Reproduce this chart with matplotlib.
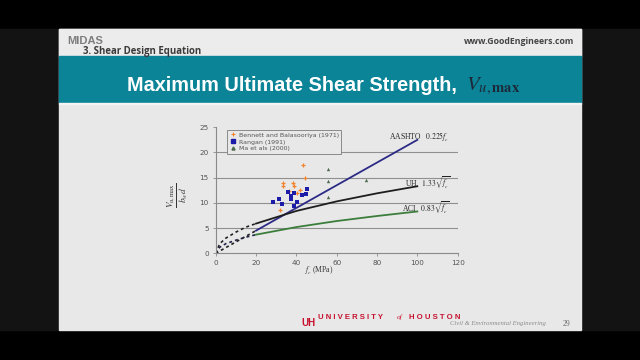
import matplotlib.pyplot as plt
import matplotlib.patches as mpatches
from matplotlib.lines import Line2D

plt.rcParams['mathtext.fontset'] = 'stix'

# test data (f'c in MPa, Vu,max / bw d)
bennett_fc = [43.2, 33.5, 38.5, 33.5, 38.8, 44.3, 40.5, 36.5, 42.0, 31.9]
bennett_v = [17.5, 13.9, 13.9, 13.3, 13.3, 14.9, 12.0, 12.4, 12.5, 8.5]

rangan_fc = [28.6, 31.6, 33.1, 35.9, 37.2, 37.2, 39.0, 40.2, 43.0, 44.6, 45.1, 39.0]
rangan_v = [10.1, 10.7, 9.8, 12.1, 11.3, 10.7, 9.4, 10.1, 11.6, 11.8, 12.8, 11.9]

ma_fc = [55.9, 55.9, 55.9, 74.5]
ma_v = [16.7, 14.3, 11.1, 14.6]

# design equations, solid part (20-100 MPa) and dashed part (0-20 MPa)
aashto_fc = [20, 100]
aashto_v = [4.5, 22.5]
aashto_fc_ext = [0, 20]
aashto_v_ext = [0, 4.5]

uh_fc = [20, 40, 60, 80, 100]
uh_v = [5.9, 8.4, 10.3, 11.9, 13.3]
aci_fc = [20, 40, 60, 80, 100]
aci_v = [3.7, 5.2, 6.4, 7.4, 8.3]

ext_fc = [0, 2, 5, 10, 15, 20]
uh_v_ext = [0, 1.9, 3.0, 4.2, 5.2, 5.9]
aci_v_ext = [0, 1.2, 1.9, 2.6, 3.2, 3.7]

W, H = 640, 360


def fx(px):
    return px / W


def fy(py):
    return 1 - py / H


fig = plt.figure(figsize=(6.4, 3.6), dpi=100, facecolor='black')


def rect(x0, y0, x1, y1, color):
    fig.patches.append(mpatches.Rectangle((fx(x0), fy(y1)), fx(x1) - fx(x0), fy(y0) - fy(y1),
                                          transform=fig.transFigure, color=color, zorder=-5))


# slide background
rect(0, 29, 59, 330, '#131313')
rect(581, 29, 640, 330, '#131313')
rect(59, 29, 581, 330, '#e8e8e8')
rect(59, 29, 581, 56, '#ececec')
rect(59, 56, 581, 102.5, '#0c8497')
rect(59, 102.5, 581, 104, '#f4f4f4')

# header
fig.text(fx(67), fy(44.5), 'MIDAS', color='#7d7d7d', fontsize=8, fontweight='bold',
         family='Liberation Sans', va='baseline')
fig.text(fx(83), fy(53.8), '3. Shear Design Equation', color='#3a3a3a', fontsize=6.9,
         fontweight='bold', family='Open Sans', va='baseline')
fig.text(fx(574), fy(43.5), 'www.GoodEngineers.com', color='#444444', fontsize=6.3,
         fontweight='bold', family='Open Sans', va='baseline', ha='right')

# title
fig.text(fx(127), fy(90.7), 'Maximum Ultimate Shear Strength,', color='white', fontsize=14.3,
         fontweight='bold', family='Liberation Sans', va='baseline')
fig.text(fx(466), fy(90), r'$V_{u,\mathbf{max}}$', color='#1c2838', fontsize=15, va='baseline')

# footer
fig.text(fx(301), fy(326), 'UH', color='#c8102e', fontsize=7, fontweight='bold',
         family='Liberation Sans', va='baseline')
fig.text(fx(318), fy(319), 'U N I V E R S I T Y', color='#c8102e', fontsize=5.6,
         fontweight='bold', family='Liberation Sans', va='baseline')
fig.text(fx(397), fy(319), 'of', color='#c8102e', fontsize=5.2, style='italic',
         family='Liberation Serif', va='baseline')
fig.text(fx(409), fy(319), 'H O U S T O N', color='#c8102e', fontsize=5.6,
         fontweight='bold', family='Liberation Sans', va='baseline')
fig.text(fx(546), fy(325), 'Civil & Environmental Engineering', color='#8a8a8a', fontsize=4.8,
         style='italic', family='Liberation Serif', va='baseline', ha='right')
fig.text(fx(563), fy(325.5), '29', color='#666666', fontsize=5.5, family='Liberation Serif',
         va='baseline')

# chart
ax = fig.add_axes([fx(215.7), fy(253.3), fx(457.6) - fx(215.7), fy(127.3) - fy(253.3)])
ax.set_facecolor('none')
ax.set_xlim(0, 120)
ax.set_ylim(0, 25)
ax.set_xticks([0, 20, 40, 60, 80, 100, 120])
ax.set_yticks([0, 5, 10, 15, 20, 25])
for s in ['top', 'right']:
    ax.spines[s].set_visible(False)
for s in ['left', 'bottom']:
    ax.spines[s].set_color('#8a8a8a')
    ax.spines[s].set_linewidth(0.8)
ax.tick_params(labelsize=5.2, colors='#8a8a8a', labelcolor='#555555', length=2, width=0.6, pad=3)
for v in [5, 10, 15, 20]:
    ax.axhline(v, color='#8f8f8f', lw=0.8, zorder=1)

dots = (0, (1.8, 1.8))
ax.plot(aashto_fc_ext, aashto_v_ext, ls=dots, color='#222222', lw=1.2, zorder=2)
ax.plot(ext_fc, uh_v_ext, ls=dots, color='#222222', lw=1.2, zorder=2)
ax.plot(ext_fc, aci_v_ext, ls=dots, color='#222244', lw=1.2, zorder=2)
ax.plot(aashto_fc, aashto_v, color='#2b2b86', lw=1.3, zorder=3)
ax.plot(uh_fc, uh_v, color='#1e1e1e', lw=1.3, zorder=3)
ax.plot(aci_fc, aci_v, color='#3b7d3b', lw=1.3, zorder=3)

ax.scatter(bennett_fc, bennett_v, marker='+', s=9, color='#f28430', lw=0.9, zorder=4)
ax.scatter(rangan_fc, rangan_v, marker='s', s=6, color='#1c1ca8', lw=0, zorder=4)
ax.scatter(ma_fc, ma_v, marker='^', s=6, color='#4d6b4d', lw=0, zorder=4)

ax.text(116, 23.1, "AASHTO   $0.225f_c'$", fontsize=5.5, family='Liberation Serif',
        ha='right', va='center', color='#222222')
ax.text(116.5, 13.9, r"UH   $1.33\sqrt{f_c'}$", fontsize=5.5, family='Liberation Serif',
        ha='right', va='center', color='#222222')
ax.text(116, 9.0, r"ACI   $0.83\sqrt{f_c'}$", fontsize=5.5, family='Liberation Serif',
        ha='right', va='center', color='#222222')

ax.text(51, -3.4, "$f_c'$ (MPa)", fontsize=5.5, family='Liberation Serif', ha='center',
        va='center', color='#333333')
fig.text(fx(178), fy(195), r'$\frac{V_{u,\max}}{b_w d}$', fontsize=9.5, rotation=90,
         ha='center', va='center', color='#333333')

handles = [
    Line2D([], [], ls='', marker='+', ms=3, color='#f28430', mew=0.8),
    Line2D([], [], ls='', marker='s', ms=2.5, color='#1c1ca8'),
    Line2D([], [], ls='', marker='^', ms=2.2, color='#4d6b4d'),
]
labels = ['Bennett and Balasooriya (1971)', 'Rangan (1991)', 'Ma et als (2000)']
leg = fig.legend(handles, labels, loc='upper left', bbox_to_anchor=(fx(227.3), fy(130)),
                 bbox_transform=fig.transFigure, fontsize=4.5, frameon=True, fancybox=False,
                 borderaxespad=0, handlelength=1.1, handletextpad=0.4, labelspacing=0.25,
                 borderpad=0.35, facecolor='#e8e8e8', edgecolor='#8a8a8a', framealpha=1,
                 labelcolor='#555555')
leg.get_frame().set_linewidth(0.7)

fig.savefig('out.png', dpi=100, facecolor='black')
